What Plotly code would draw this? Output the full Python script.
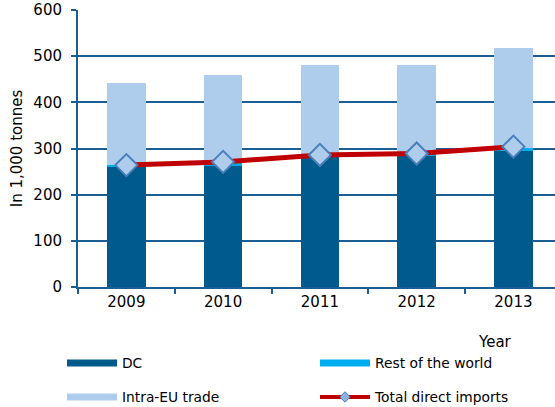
import plotly.graph_objects as go

years = ["2009", "2010", "2011", "2012", "2013"]
dc = [259, 264, 282, 284, 295]
rest_of_world = [5, 4, 3, 4, 6]
intra_eu = [177, 191, 196, 193, 217]
total_direct = [264, 271, 286, 289, 304]

C_DC = "#005a8c"
C_ROW = "#00aeef"
C_INTRA = "#aecdec"
C_RED = "#c00000"
C_AXIS = "#1b5e95"
FONT = "DejaVu Sans"

fig = go.Figure()

# stacked bars
for name, vals, col in [("DC", dc, C_DC),
                        ("Rest of the world", rest_of_world, C_ROW),
                        ("Intra-EU trade", intra_eu, C_INTRA)]:
    fig.add_trace(go.Bar(x=years, y=vals, name=name, marker_color=col,
                         marker_line_width=0, width=0.4, showlegend=False))

# total direct imports line
fig.add_trace(go.Scatter(x=years, y=total_direct, mode="lines+markers",
                         line=dict(color=C_RED, width=5),
                         marker=dict(symbol="diamond", size=17, color=C_INTRA,
                                     line=dict(color="#4a7ebb", width=2)),
                         showlegend=False))

# one legend box per entry, laid out as a 2x2 grid below the plot
leg_items = [("DC", C_DC, False, 62, 363),
             ("Rest of the world", C_ROW, False, 315, 363),
             ("Intra-EU trade", C_INTRA, False, 62, 397),
             ("Total direct imports", C_RED, True, 315, 397)]
legend_layouts = {}
for i, (name, col, mk, px, py) in enumerate(leg_items):
    key = "legend" if i == 0 else f"legend{i + 1}"
    fig.add_trace(go.Scatter(
        x=[None], y=[None], name=name, legend=key,
        mode="lines+markers" if mk else "lines",
        line=dict(color=col, width=4 if mk else 7),
        marker=dict(symbol="diamond", size=8, color="#8db3e2",
                    line=dict(color="#4a7ebb", width=1)) if mk else None,
    ))
    legend_layouts[key] = dict(
        orientation="h", xref="container", yref="container",
        x=px / 555, y=1 - py / 407, xanchor="left", yanchor="middle",
        itemwidth=50, font=dict(family=FONT, size=13.8, color="#000000"),
        bgcolor="rgba(0,0,0,0)")

fig.update_layout(
    width=555, height=407,
    margin=dict(l=78, r=0, t=10, b=120),
    barmode="stack",
    plot_bgcolor="white", paper_bgcolor="white",
    font=dict(family=FONT, size=15, color="#000000"),
    **legend_layouts,
    xaxis=dict(type="category", range=[-0.5, 4.43], showline=True,
               linecolor=C_AXIS, linewidth=2, ticks="outside",
               tickson="boundaries", tickcolor=C_AXIS, ticklen=5, tickwidth=2,
               showgrid=False, tickfont=dict(size=15)),
    yaxis=dict(range=[0, 600], dtick=100, showline=True, linecolor=C_AXIS,
               linewidth=2, ticks="outside", tickcolor=C_AXIS, ticklen=5,
               tickwidth=2, showgrid=True, gridcolor=C_AXIS, gridwidth=2,
               zeroline=False, tickfont=dict(size=15), ticklabelstandoff=6,
               title=dict(text="In 1,000 tonnes", font=dict(size=15), standoff=7)),
    annotations=[dict(text="Year", xref="paper", yref="paper",
                      x=(495 - 78) / 477, y=-(342 - 287) / 277,
                      showarrow=False, font=dict(size=15),
                      xanchor="center", yanchor="middle")],
)

fig.write_html("out.html")
